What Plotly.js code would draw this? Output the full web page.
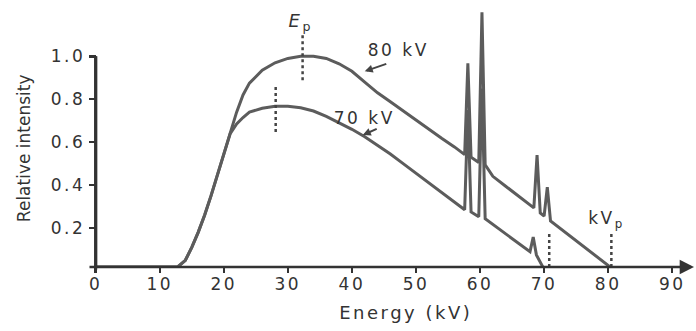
<!DOCTYPE html>
<html>
<head>
<meta charset="utf-8">
<script src="https://cdn.plot.ly/plotly-3.0.1.min.js"></script>
<style>
html, body { margin: 0; padding: 0; background: #fff; }
#chart { width: 696px; height: 331px; }
.xtick text, .ytick text, .annotation:not([data-index="0"]) text { letter-spacing: 2.5px; }
</style>
</head>
<body>
<div id="chart"></div>
<script>
// ---- data ----
const energy80 = [0, 12.8, 14, 15, 16, 17, 18, 19, 20, 21, 22, 23, 24, 26, 28, 30, 32, 34, 36, 38, 40, 42, 44, 46, 48, 50, 52, 54, 56, 57.6, 58.1, 58.6, 59.8, 60.3, 60.8, 62, 64, 66, 68.4, 68.9, 69.4, 70.0, 70.5, 71.0, 74, 77, 80.3];
const intensity80 = [0.019, 0.019, 0.05, 0.11, 0.18, 0.26, 0.35, 0.45, 0.55, 0.64, 0.74, 0.82, 0.875, 0.935, 0.97, 0.99, 1.0, 1.0, 0.99, 0.965, 0.93, 0.88, 0.83, 0.788, 0.745, 0.70, 0.658, 0.618, 0.578, 0.542, 0.967, 0.53, 0.505, 1.205, 0.495, 0.441, 0.395, 0.349, 0.294, 0.54, 0.27, 0.256, 0.39, 0.233, 0.164, 0.095, 0.019];

const energy70 = [0, 12.8, 14, 15, 16, 17, 18, 19, 20, 21, 22, 23, 24, 26, 28, 30, 32, 34, 36, 38, 40, 42, 44, 46, 48, 50, 52, 54, 56, 57.6, 58.1, 58.6, 59.8, 60.3, 60.8, 63, 66, 67.8, 68.3, 68.8, 69.8];
const intensity70 = [0.019, 0.019, 0.05, 0.11, 0.18, 0.26, 0.35, 0.45, 0.55, 0.64, 0.685, 0.715, 0.74, 0.758, 0.767, 0.767, 0.76, 0.745, 0.72, 0.69, 0.66, 0.625, 0.587, 0.545, 0.50, 0.455, 0.41, 0.365, 0.32, 0.285, 0.75, 0.275, 0.253, 0.85, 0.243, 0.195, 0.13, 0.09, 0.158, 0.075, 0.019];

// dotted marker lines: E_p (80 kV), E_p (70 kV), kVp 70, kVp 80
const markerEnergy = [32.3, 28.1, 70.8, 80.5];
const markerLow    = [0.888, 0.647, 0.019, 0.019];
const markerHigh   = [1.098, 0.865, 0.18, 0.18];

const xTickVals = [0, 10, 20, 30, 40, 50, 60, 70, 80, 90];
const yTickVals = [0.2, 0.4, 0.6, 0.8, 1.0];
const yTickText = ['0.2', '0.4', '0.6', '0.8', '1.0'];

// ---- styling ----
const FONT = 'DejaVu Sans, Arial, sans-serif';
const TEXT = '#333333';
const CURVE = '#5c5c5c';
const AXIS = '#333333';
const Y0 = 0.0186;
const YMAX = 1.225;
const XMIN = -1.2, XMAX = 93.4;

const traces = [];
traces.push({ x: energy70, y: intensity70, mode: 'lines', line: { color: CURVE, width: 3, shape: 'linear' }, hoverinfo: 'skip' });
traces.push({ x: energy80, y: intensity80, mode: 'lines', line: { color: CURVE, width: 3, shape: 'linear' }, hoverinfo: 'skip' });
for (let i = 0; i < markerEnergy.length; i++) {
  traces.push({ x: [markerEnergy[i], markerEnergy[i]], y: [markerLow[i], markerHigh[i]], mode: 'lines',
    line: { color: '#444444', width: 2.5, dash: 'dot' }, hoverinfo: 'skip' });
}
// y axis line (from baseline to the 1.0 tick)
traces.push({ x: [0, 0], y: [Y0, 1.0], mode: 'lines', line: { color: '#333333', width: 3 }, hoverinfo: 'skip' });

const annotations = [
  // 0: y title (no letter spacing)
  { text: 'Relative intensity', xref: 'paper', yref: 'paper', x: -0.1056, y: 0.459, textangle: -90,
    showarrow: false, xanchor: 'center', yanchor: 'middle', font: { family: FONT, size: 17, color: TEXT } },
  // x title
  { text: 'Energy (kV)', xref: 'x', yref: 'paper', x: 48.4, y: -0.174, showarrow: false,
    xanchor: 'center', yanchor: 'middle', font: { family: FONT, size: 18, color: TEXT } },
  // x axis line with arrow
  { text: '', xref: 'x', yref: 'y', axref: 'x', ayref: 'y', x: XMAX, y: Y0, ax: XMIN, ay: Y0,
    showarrow: true, arrowhead: 2, arrowsize: 1.1, arrowwidth: 2.6, arrowcolor: AXIS, standoff: 0, startstandoff: 0 },
  // y axis line (no head)
  { text: '', xref: 'x', yref: 'y', axref: 'x', ayref: 'y', x: 0, y: 1.0, ax: 0, ay: Y0 - 0.02,
    showarrow: true, arrowhead: 0, arrowwidth: 3, arrowcolor: AXIS, standoff: 0, startstandoff: 0 },
  // labels
  { text: '<i>E</i><sub>p</sub>', xref: 'x', yref: 'y', x: 31.9, y: 1.158, showarrow: false,
    xanchor: 'center', yanchor: 'middle', font: { family: FONT, size: 18, color: TEXT } },
  { text: '80 kV', xref: 'x', yref: 'y', x: 47.2, y: 1.028, showarrow: false,
    xanchor: 'center', yanchor: 'middle', font: { family: FONT, size: 17, color: TEXT } },
  { text: '', xref: 'x', yref: 'y', axref: 'x', ayref: 'y', x: 42.0, y: 0.93, ax: 45.6, ay: 0.967,
    showarrow: true, arrowhead: 2, arrowsize: 0.8, arrowwidth: 2, arrowcolor: '#444', standoff: 0 },
  { text: '70 kV', xref: 'x', yref: 'y', x: 42.0, y: 0.712, showarrow: false,
    xanchor: 'center', yanchor: 'middle', font: { family: FONT, size: 17, color: TEXT } },
  { text: '', xref: 'x', yref: 'y', axref: 'x', ayref: 'y', x: 41.7, y: 0.633, ax: 44.1, ay: 0.665,
    showarrow: true, arrowhead: 2, arrowsize: 0.8, arrowwidth: 2, arrowcolor: '#444', standoff: 0 },
  { text: 'kV<sub>p</sub>', xref: 'x', yref: 'y', x: 79.8, y: 0.242, showarrow: false,
    xanchor: 'center', yanchor: 'middle', font: { family: FONT, size: 17, color: TEXT } }
];

const layout = {
  width: 696, height: 331,
  margin: { l: 88, r: 2, t: 8, b: 64 },
  paper_bgcolor: '#ffffff', plot_bgcolor: '#ffffff',
  showlegend: false,
  font: { family: FONT, size: 17, color: TEXT },
  xaxis: {
    range: [XMIN, XMAX], tickmode: 'array', tickvals: xTickVals,
    ticks: 'outside', ticklen: 5, tickwidth: 2.5, tickcolor: AXIS, ticklabelstandoff: -3,
    showline: false, showgrid: false, zeroline: false,
    tickfont: { family: FONT, size: 17, color: TEXT }, fixedrange: true
  },
  yaxis: {
    range: [Y0, YMAX], tickmode: 'array', tickvals: yTickVals, ticktext: yTickText,
    anchor: 'free', position: (0 - XMIN) / (XMAX - XMIN),
    ticks: 'outside', ticklen: 7, tickwidth: 2.5, tickcolor: AXIS,
    showline: false, showgrid: false, zeroline: false,
    tickfont: { family: FONT, size: 17, color: TEXT }, fixedrange: true
  },
  annotations: annotations
};

Plotly.newPlot('chart', traces, layout, { displayModeBar: false, staticPlot: true });
</script>
</body>
</html>
